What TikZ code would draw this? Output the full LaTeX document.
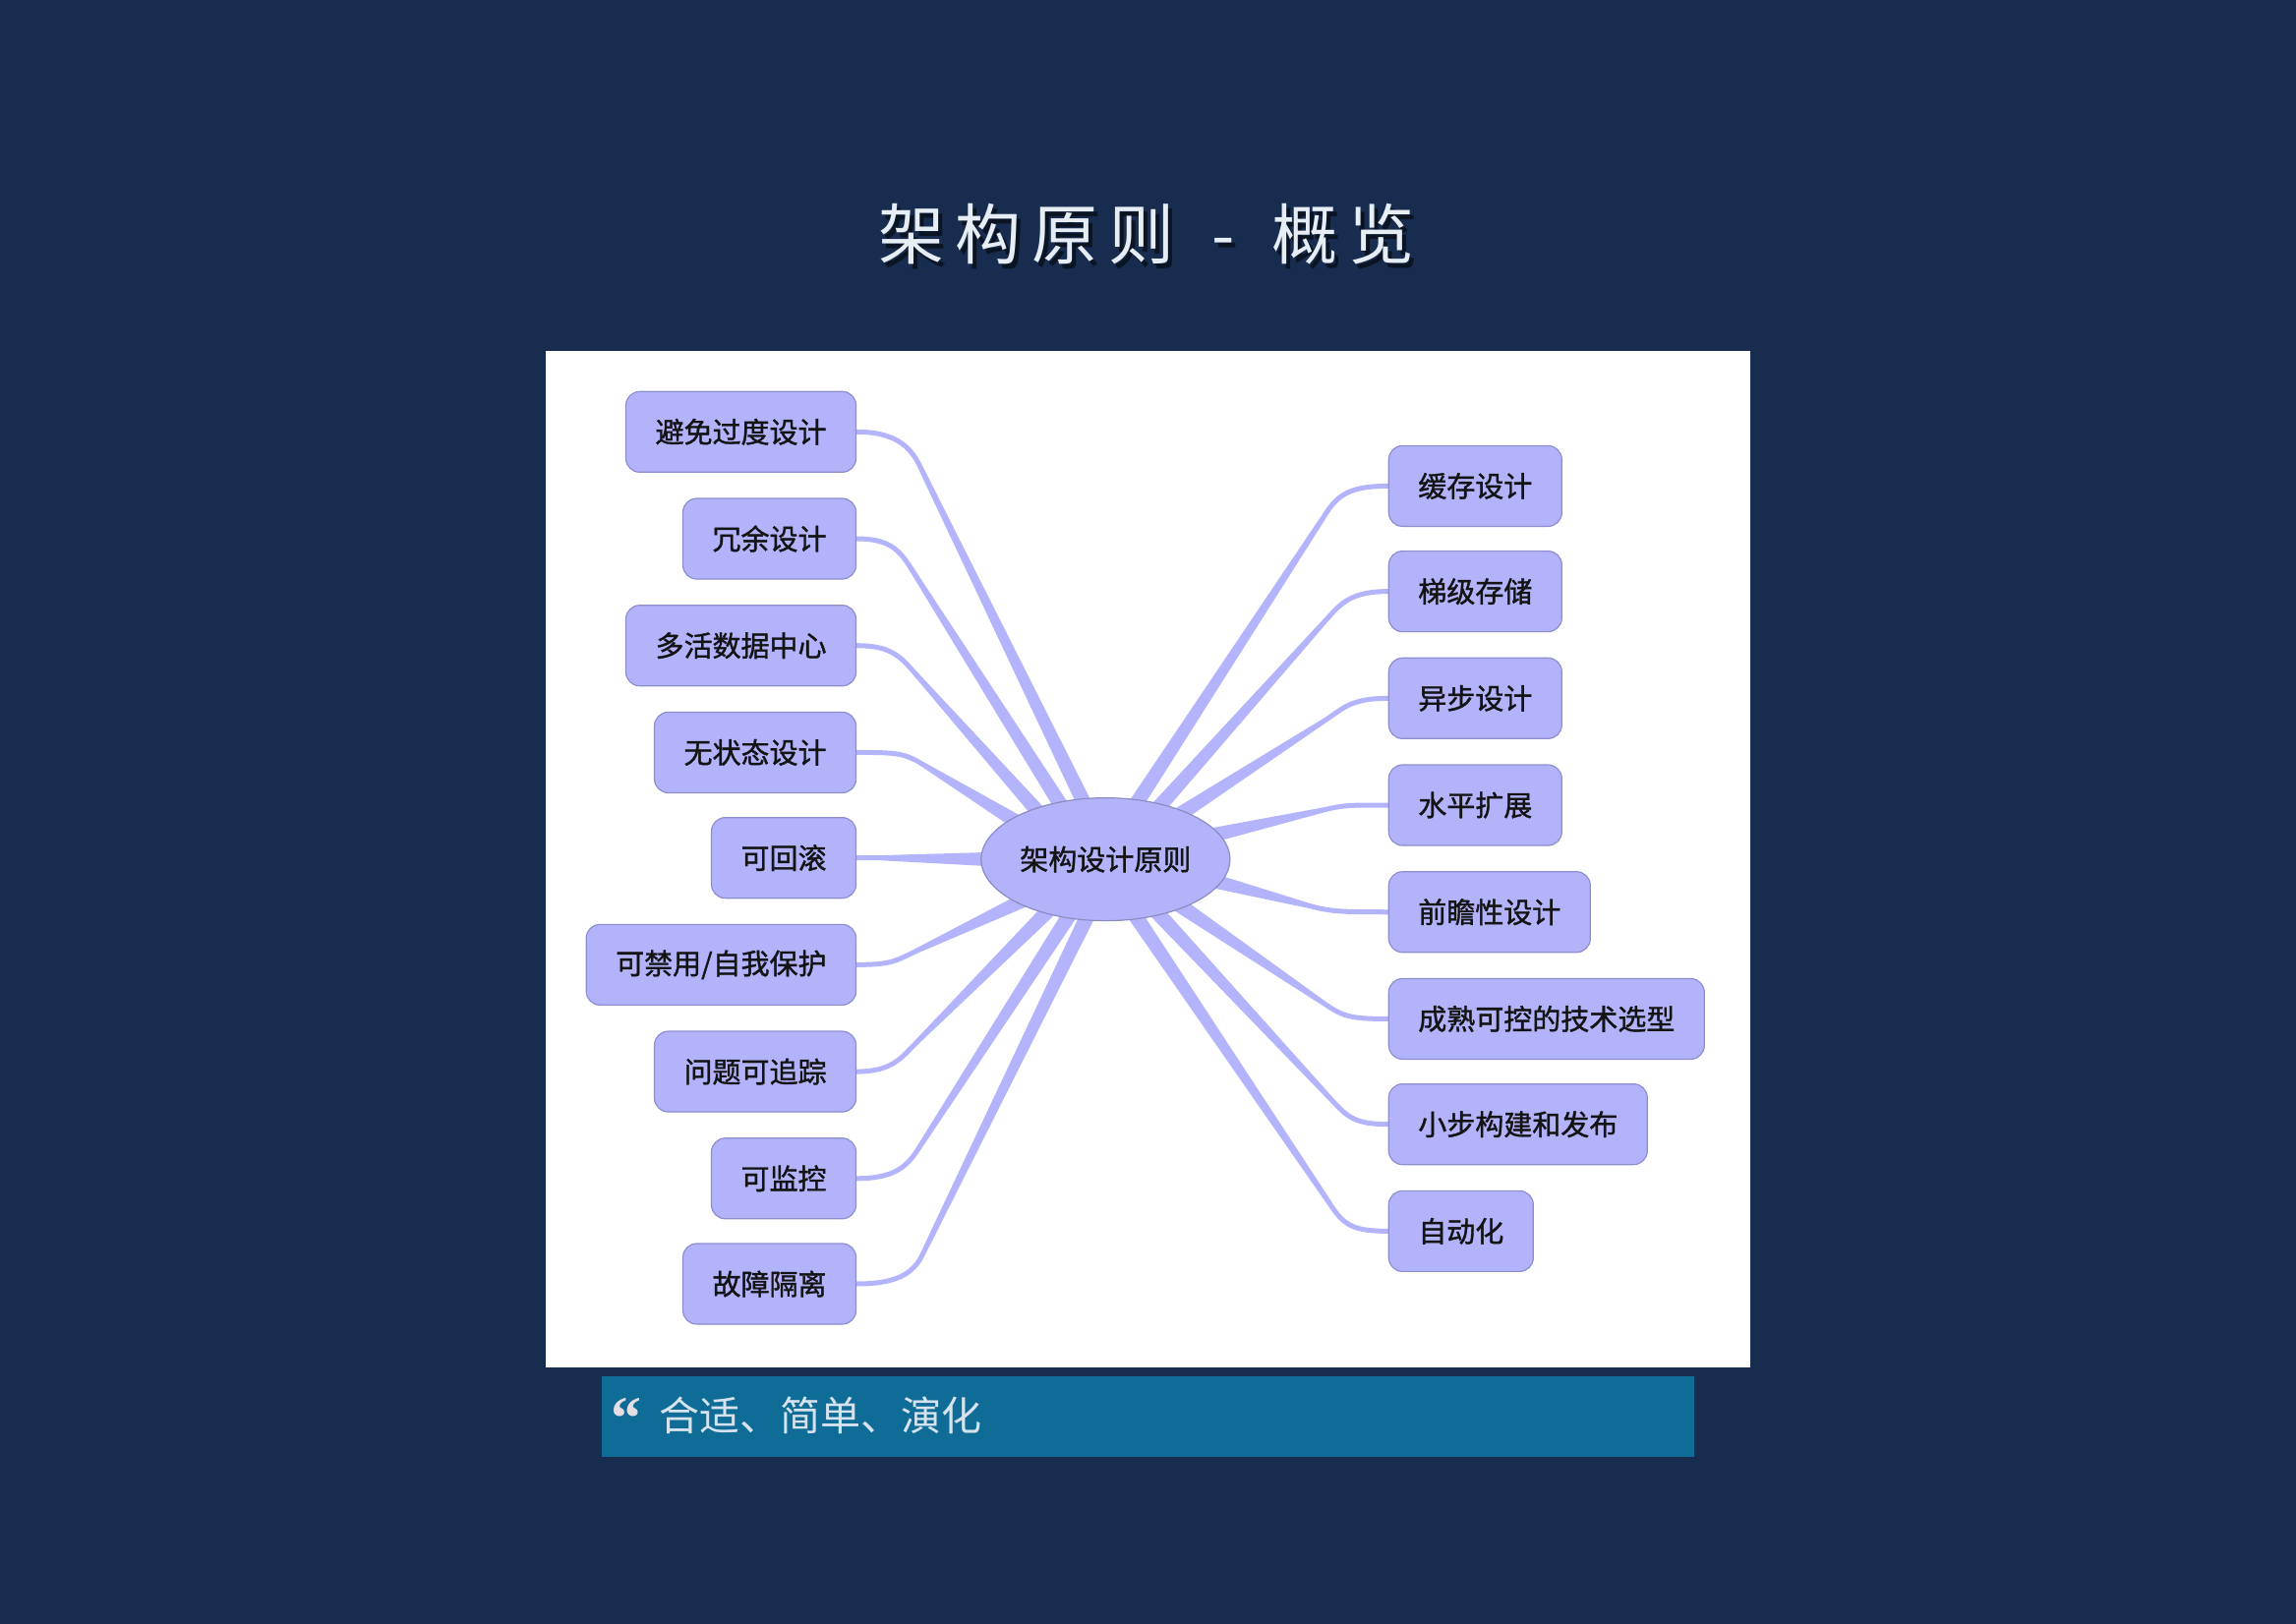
\documentclass[tikz,border=0pt]{standalone}
\usepackage{fontspec}
\usetikzlibrary{calc,shapes.geometric}
\newfontfamily\cjk{Noto Sans CJK SC}
\newfontfamily\cjkb[FakeBold=1.3]{Noto Sans CJK SC}
\newfontfamily\qfont{Liberation Serif}
\definecolor{bgc}{HTML}{172C4F}
\definecolor{barc}{HTML}{0E6C97}
\definecolor{lav}{HTML}{B3B3FC}
\definecolor{lavb}{HTML}{8E8ECF}
\definecolor{connc}{HTML}{B4B4FD}
\definecolor{titlec}{HTML}{E6EDF5}
\definecolor{quotec}{HTML}{D6E3EE}
\definecolor{qmarkc}{HTML}{E6DEE3}
\pgfdeclarelayer{back}
\pgfdeclarelayer{mid}
\pgfsetlayers{back,mid,main}
\newcommand\mmconn[3]{%
  \draw[connc, line width=5pt, line cap=round]
    (#1) .. controls ($(#1)!0.6!(#2 |- #1)$) and ($(#2)!-22pt!(#3)$) .. (#2);
  \fill[connc] ($(#2)!2.5pt!90:(#3)$) -- ($(#3)!7.5pt!-90:(#2)$)
    -- ($(#3)!7.5pt!90:(#2)$) -- ($(#2)!2.5pt!-90:(#3)$) -- cycle;
}
\begin{document}
\begin{tikzpicture}[x=1.4892pt,y=-1.4892pt,
  leaf/.style={draw=lavb, line width=1.2pt, fill=lav, rounded corners=14pt,
    minimum height=82pt, inner xsep=30pt, inner ysep=0pt,
    font=\cjkb\fontsize{29}{29}\selectfont, text=black!92},
  lnode/.style={leaf, anchor=east},
  rnode/.style={leaf, anchor=west},
  hub/.style={ellipse, draw=lavb!85!gray, line width=1.2pt, fill=lav,
    minimum width=253pt, minimum height=125pt, inner sep=0pt,
    font=\cjkb\fontsize{29}{29}\selectfont, text=black!92},
  titletext/.style={font=\cjk\fontsize{67}{67}\selectfont, inner sep=0pt},
]
\useasboundingbox (0,0) rectangle (1568,1109.3);
\begin{pgfonlayer}{back}
  \fill[bgc] (0,0) rectangle (1568,1109.3);
  \fill[white] (373,240) rectangle (1195,934);
  \fill[barc] (411,940) rectangle (1157,995);
  % title shadow
  \node[titletext, text=black!55!bgc] (titleshadow) at (785.5,163.5)
    {架\hspace{11pt}构\hspace{11pt}原\hspace{11pt}则\hspace{38pt}-\hspace{38pt}概\hspace{11pt}览};
\end{pgfonlayer}

% title
\node[titletext, text=titlec] (title) at (783,160)
  {架\hspace{11pt}构\hspace{11pt}原\hspace{11pt}则\hspace{38pt}-\hspace{38pt}概\hspace{11pt}览};

% quote bar
\node[anchor=base west, inner sep=0pt, text=qmarkc, font=\qfont\bfseries\fontsize{62}{62}\selectfont]
  (qmark) at (417.5,983) {“};
\node[anchor=west, inner sep=0pt, text=quotec, font=\cjk\fontsize{41}{41}\selectfont]
  (quote) at (450,967) {合适、简单、演化};

% hub
\node[hub] (hub) at (755,587) {架构设计原则};

% left nodes
\node[lnode] (l1) at (585,295) {避免过度设计};
\node[lnode] (l2) at (585,368) {冗余设计};
\node[lnode] (l3) at (585,441) {多活数据中心};
\node[lnode] (l4) at (585,514) {无状态设计};
\node[lnode] (l5) at (585,586) {可回滚};
\node[lnode] (l6) at (585,659) {可禁用/自我保护};
\node[lnode] (l7) at (585,732) {问题可追踪};
\node[lnode] (l8) at (585,805) {可监控};
\node[lnode] (l9) at (585,877) {故障隔离};

% right nodes
\node[rnode] (r1) at (948,332) {缓存设计};
\node[rnode] (r2) at (948,404) {梯级存储};
\node[rnode] (r3) at (948,477) {异步设计};
\node[rnode] (r4) at (948,550) {水平扩展};
\node[rnode] (r5) at (948,623) {前瞻性设计};
\node[rnode] (r6) at (948,696) {成熟可控的技术选型};
\node[rnode] (r7) at (948,768) {小步构建和发布};
\node[rnode] (r8) at (948,841) {自动化};

% bend and end points
\coordinate (bl1) at (628,318); \coordinate (el1) at (742,552);
\coordinate (bl2) at (622,388); \coordinate (el2) at (727,554);
\coordinate (bl3) at (625,460); \coordinate (el3) at (712,558);
\coordinate (bl4) at (630,522); \coordinate (el4) at (697,563);
\coordinate (bl5) at (600,586); \coordinate (el5) at (682,587);
\coordinate (bl6) at (625,650); \coordinate (el6) at (703,613);
\coordinate (bl7) at (626,712); \coordinate (el7) at (717,621);
\coordinate (bl8) at (627,785); \coordinate (el8) at (731,624);
\coordinate (bl9) at (630,857); \coordinate (el9) at (743,625);
\coordinate (br1) at (906,350); \coordinate (er1) at (774,552);
\coordinate (br2) at (906,423); \coordinate (er2) at (789,554);
\coordinate (br3) at (905,492); \coordinate (er3) at (803,558);
\coordinate (br4) at (905,553); \coordinate (er4) at (826,571);
\coordinate (br5) at (895,619); \coordinate (er5) at (826,601);
\coordinate (br6) at (905,686); \coordinate (er6) at (805,618);
\coordinate (br7) at (910,752); \coordinate (er7) at (790,623);
\coordinate (br8) at (910,825); \coordinate (er8) at (775,625);

\begin{pgfonlayer}{mid}
  \mmconn{l1.east}{bl1}{el1}
  \mmconn{l2.east}{bl2}{el2}
  \mmconn{l3.east}{bl3}{el3}
  \mmconn{l4.east}{bl4}{el4}
  \mmconn{l5.east}{bl5}{el5}
  \mmconn{l6.east}{bl6}{el6}
  \mmconn{l7.east}{bl7}{el7}
  \mmconn{l8.east}{bl8}{el8}
  \mmconn{l9.east}{bl9}{el9}
  \mmconn{r1.west}{br1}{er1}
  \mmconn{r2.west}{br2}{er2}
  \mmconn{r3.west}{br3}{er3}
  \mmconn{r4.west}{br4}{er4}
  \mmconn{r5.west}{br5}{er5}
  \mmconn{r6.west}{br6}{er6}
  \mmconn{r7.west}{br7}{er7}
  \mmconn{r8.west}{br8}{er8}
\end{pgfonlayer}
\end{tikzpicture}
\end{document}
